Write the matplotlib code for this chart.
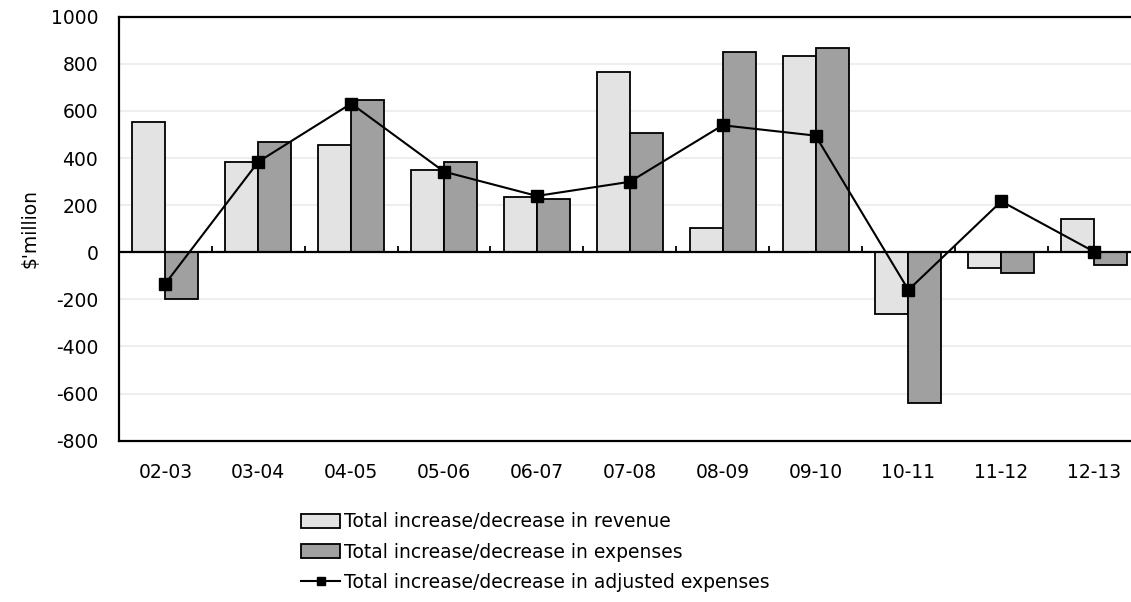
import matplotlib.pyplot as plt
import numpy as np

# Annual changes, $'million
years = ['02-03', '03-04', '04-05', '05-06', '06-07', '07-08',
         '08-09', '09-10', '10-11', '11-12', '12-13']
revenue = [552, 381, 457, 347, 236, 764, 101, 831, -263, -68, 143]
expenses = [-197, 466, 645, 381, 228, 508, 849, 865, -639, -87, -54]
adjusted = [-133, 384, 631, 342, 239, 299, 539, 495, -160, 216, 2]

yticks = [-800, -600, -400, -200, 0, 200, 400, 600, 800, 1000]

plt.rcParams['font.family'] = ['DejaVu Sans']

fig = plt.figure(figsize=(11.31, 6.02), dpi=100)
ax = fig.add_axes([0.1052, 0.268, 0.9033, 0.7043])

x = np.arange(len(years))
width = 0.355

b1 = ax.bar(x - width / 2, revenue, width, color='#e3e3e3', edgecolor='black',
            linewidth=1.3, label='Total increase/decrease in revenue', zorder=3)
b2 = ax.bar(x + width / 2, expenses, width, color='#a0a0a0', edgecolor='black',
            linewidth=1.3, label='Total increase/decrease in expenses', zorder=3)
ln, = ax.plot(x, adjusted, color='black', linewidth=1.5, marker='s', markersize=8,
              label='Total increase/decrease in adjusted expenses', zorder=4)

ax.set_xlim(-0.5, len(years) - 0.5)
ax.set_ylim(-800, 1000)

# light gridlines and the zero line
for v in yticks[1:-1]:
    if v != 0:
        ax.axhline(v, color='#eeeeee', linewidth=1.5, zorder=1)
ax.axhline(0, color='black', linewidth=1.6, zorder=5)

# small category separators on the zero line
ax.vlines(x[:-1] + 0.5, 0, 26, color='black', linewidth=1.3, zorder=5)

ax.set_yticks(yticks)
ax.set_yticklabels([str(v) for v in yticks])
ax.set_xticks(x)
ax.set_xticklabels(years)
ax.tick_params(axis='both', length=0, labelsize=13.5)
ax.tick_params(axis='x', pad=16)
ax.tick_params(axis='y', pad=15)

for side in ['left', 'top', 'bottom', 'right']:
    ax.spines[side].set_linewidth(1.6)

ax.set_ylabel("$'million", fontsize=13.5, labelpad=8)

fig.legend(handles=[b1, b2, ln], loc='upper left', bbox_to_anchor=(0.266, 0.149),
           frameon=False, fontsize=13.5, handlelength=2.1, handleheight=0.75,
           handletextpad=0.2, labelspacing=0.6, borderpad=0, borderaxespad=0,
           markerscale=0.7)

fig.savefig('out.png', dpi=100)
